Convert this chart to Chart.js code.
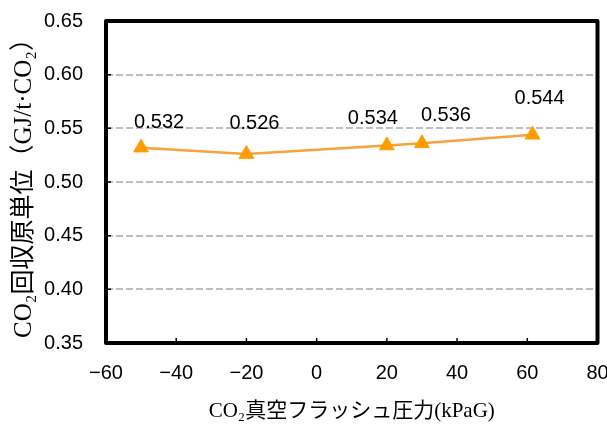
<!DOCTYPE html>
<html>
<head>
<meta charset="utf-8">
<script src="https://cdn.jsdelivr.net/npm/chart.js@4"></script>
<style>
  html, body { margin: 0; padding: 0; background: #fff; }
  #wrap { width: 607px; height: 438px; }
</style>
</head>
<body>
<div id="wrap"><canvas id="myChart" width="607" height="438"></canvas></div>
<script>
// data
const pressure = [-50, -20, 20, 30, 61.5];
const unitEnergy = [0.532, 0.526, 0.534, 0.536, 0.544];
const valueLabels = ['0.532', '0.526', '0.534', '0.536', '0.544'];
const xTitle = 'CO₂真空フラッシュ圧力(kPaG)';
const yTitle = 'CO₂回収原単位（GJ/t·CO₂）';

// label nudges (px) so labels sit where the original put them
const labelNudge = [[18, -25], [8, -31], [-14, -27], [24, -28], [7, -36]];

const numFont = { family: '"Liberation Sans", "DejaVu Sans", sans-serif', size: 20 };
const titleFamily = '"Liberation Serif", "Noto Sans CJK JP", serif';

// drop the half-label overhang Chart.js reserves, the layout padding places the frame
function noOverhang(scale) {
	scale.paddingLeft = 0;
	scale.paddingRight = 0;
	scale.paddingTop = 0;
	scale.paddingBottom = 0;
}

const frame = {
	id: 'frame',
	afterDraw(chart) {
		const { ctx, chartArea: a, scales } = chart;
		ctx.save();
		ctx.strokeStyle = '#000';
		ctx.lineWidth = 1.5;
		ctx.beginPath();
		scales.x.ticks.forEach(t => {
			const px = scales.x.getPixelForValue(t.value);
			ctx.moveTo(px, a.bottom);
			ctx.lineTo(px, a.bottom - 5);
		});
		scales.y.ticks.forEach(t => {
			const py = scales.y.getPixelForValue(t.value);
			ctx.moveTo(a.left, py);
			ctx.lineTo(a.left + 5, py);
		});
		ctx.stroke();
		ctx.lineWidth = 4;
		ctx.lineJoin = 'round';
		ctx.strokeRect(a.left, a.top, a.right - a.left, a.bottom - a.top);
		ctx.restore();
	}
};

const valueTags = {
	id: 'valueTags',
	afterDatasetsDraw(chart) {
		const { ctx } = chart;
		const meta = chart.getDatasetMeta(0);
		ctx.save();
		ctx.font = numFont.size + 'px ' + numFont.family;
		ctx.fillStyle = '#000';
		ctx.textAlign = 'center';
		ctx.textBaseline = 'middle';
		meta.data.forEach((pt, i) => {
			ctx.fillText(valueLabels[i], pt.x + labelNudge[i][0], pt.y + labelNudge[i][1]);
		});
		ctx.restore();
	}
};

const ctx = document.getElementById('myChart').getContext('2d');
new Chart(ctx, {
	type: 'scatter',
	data: {
		datasets: [{
			data: pressure.map((p, i) => ({ x: p, y: unitEnergy[i] })),
			showLine: true,
			borderColor: '#F7A23A',
			borderWidth: 2.5,
			backgroundColor: '#FF9C00',
			pointStyle: 'triangle',
			pointRadius: 8.5,
			pointBorderWidth: 1,
			pointBorderColor: '#FF9C00'
		}]
	},
	options: {
		responsive: false,
		animation: false,
		layout: { padding: { top: 21, right: 8, left: 0, bottom: 0 } },
		plugins: {
			legend: { display: false },
			tooltip: { enabled: false }
		},
		scales: {
			x: {
				type: 'linear',
				min: -60,
				max: 80,
				afterFit(scale) { scale.height = 95; noOverhang(scale); },
				grid: { display: false, drawTicks: false },
				border: { display: false },
				ticks: {
					stepSize: 20,
					padding: 18,
					color: '#000',
					font: numFont,
					callback: v => (v < 0 ? '\u2212' + Math.abs(v) : String(v))
				},
				title: {
					display: true,
					text: xTitle,
					color: '#000',
					font: { family: titleFamily, size: 21 },
					padding: { bottom: 14 }
				}
			},
			y: {
				min: 0.35,
				max: 0.65,
				afterFit(scale) { scale.width = 106; noOverhang(scale); },
				grid: { color: '#BEBEBE', lineWidth: 2, drawTicks: false },
				border: { display: false, dash: [7, 3] },
				ticks: {
					stepSize: 0.05,
					padding: 23,
					color: '#000',
					font: numFont,
					callback: v => v.toFixed(2)
				},
				title: {
					display: true,
					text: yTitle,
					color: '#000',
					font: { family: titleFamily, size: 25 },
					padding: { top: 9 }
				}
			}
		}
	},
	plugins: [frame, valueTags]
});
</script>
</body>
</html>
